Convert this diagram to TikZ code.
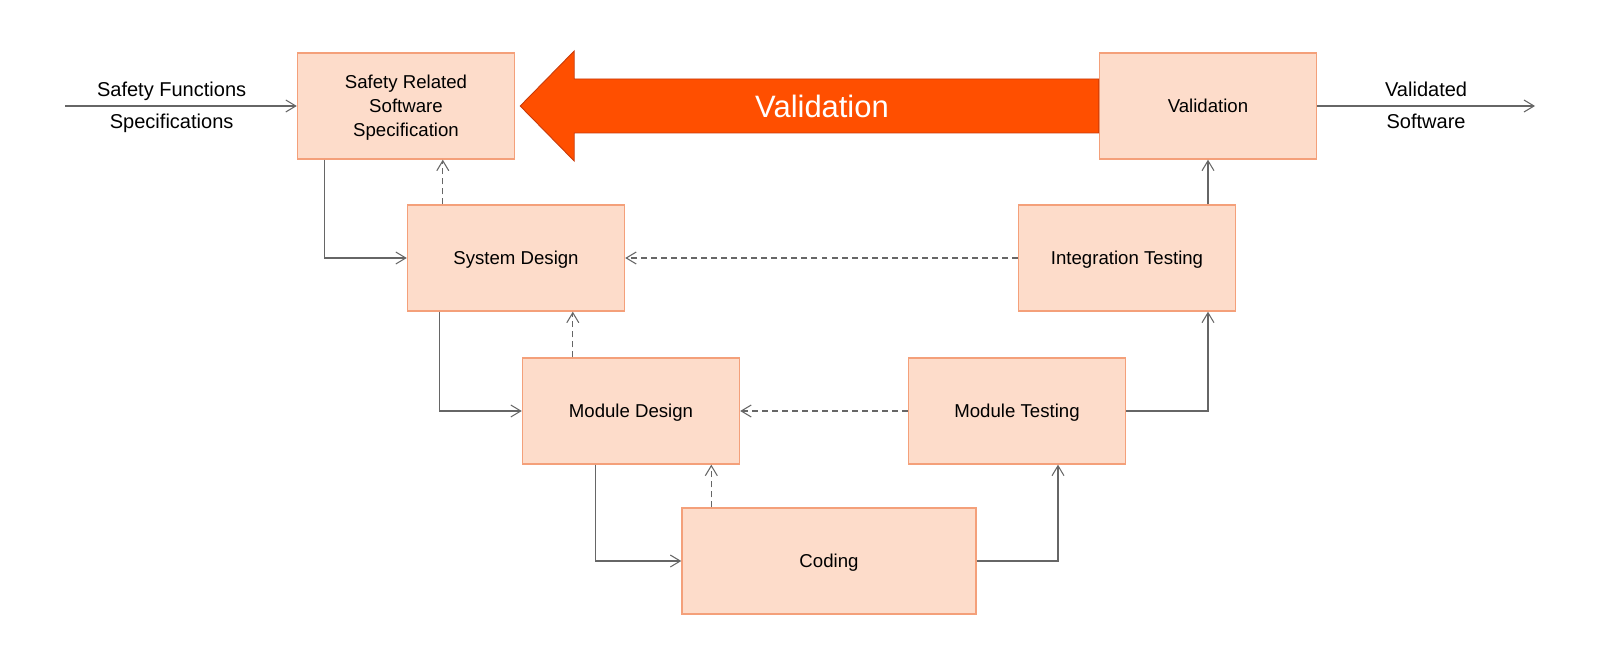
\documentclass[tikz,border=0pt]{standalone}
\usepackage{fontspec}
\setmainfont{Liberation Sans}
\usepackage{tikz}
\usetikzlibrary{positioning,arrows.meta}
\definecolor{boxfill}{HTML}{FDDCCA}
\definecolor{boxline}{HTML}{F4A07A}
\definecolor{valorange}{HTML}{FF4F00}
\definecolor{valedge}{HTML}{C73A0A}
\definecolor{linkgray}{HTML}{666666}

\begin{document}
\begin{tikzpicture}[->, >={Straight Barb[length=2mm,width=2.4mm]}, node distance=3.05cm and 2.2cm, on grid,
    phase/.style={rectangle, draw=boxline, fill=boxfill, line width=0.8pt, minimum width=4.34cm, minimum height=2.12cm, align=center, text depth=0pt, font=\fontsize{10.6}{13.7}\selectfont},
    link/.style={draw=linkgray, line width=0.6pt},
    back/.style={link, dash pattern=on 3.4pt off 2.3pt},
    side/.style={font=\fontsize{11.4}{13}\selectfont, inner sep=3pt, text height=0.75em, text depth=0.22em},
    bigarrow/.style={-, fill=valorange, draw=valedge, line width=0.5pt},
    bigtext/.style={text=white, font=\fontsize{17.6}{20}\selectfont}]

  \useasboundingbox (0,0) rectangle (32,-13.34);

  % Phases
  \node[phase] (Sspec) at (8.12,-2.12) {Safety Related\\Software\\Specification};
  \node[phase] (Sdesign) [below right=3.04cm and 2.2cm of Sspec] {System Design};
  \node[phase] (Mdesign) [below right=3.06cm and 2.3cm of Sdesign] {Module Design};
  \node[phase, minimum width=5.88cm] (Code) [below right=3cm and 3.96cm of Mdesign] {Coding};
  \node[phase] (Mtest) [above right=3cm and 3.76cm of Code] {Module Testing};
  \node[phase] (Itest) [above right=3.06cm and 2.2cm of Mtest] {Integration Testing};
  \node[phase] (Valid) [above right=3.04cm and 1.62cm of Itest] {Validation};

  % Big validation arrow
  \coordinate (tip) at ([xshift=0.1cm]Sspec.east);
  \filldraw[bigarrow] ([yshift=0.54cm]Valid.west) -- ([xshift=1.08cm,yshift=0.54cm]tip)
    -- ([xshift=1.08cm,yshift=1.1cm]tip) -- (tip) -- ([xshift=1.08cm,yshift=-1.1cm]tip)
    -- ([xshift=1.08cm,yshift=-0.54cm]tip) -- ([yshift=-0.54cm]Valid.west) -- cycle;
  \node[bigtext] (vtext) at (16.44,-2.12) {Validation};

  % In and out
  \coordinate (in) at (1.3,-2.12);
  \coordinate (out) at (30.7,-2.12);
  \draw[link] (in) -- node[side, above, pos=0.46] {Safety Functions}
    node[side, below=2pt, pos=0.46] {Specifications} (Sspec);
  \draw[link] (Valid) -- node[side, above] {Validated}
    node[side, below=2pt] {Software} (out);

  % Down the V
  \draw[link] ([xshift=0.56cm]Sspec.south west) |- (Sdesign);
  \draw[link] ([xshift=0.66cm]Sdesign.south west) |- (Mdesign);
  \draw[link] ([xshift=1.48cm]Mdesign.south west) |- (Code);

  % Up the V
  \draw[link] (Code) -| ([xshift=0.82cm]Mtest.south);
  \draw[link] (Mtest) -| ([xshift=1.62cm]Itest.south);
  \draw[link] (Itest.north -| Valid) -- (Valid);

  % Feedback
  \draw[back] ([xshift=0.72cm]Sdesign.north west) -- ([xshift=0.72cm]Sdesign.north west |- Sspec.south);
  \draw[back] ([xshift=1.02cm]Mdesign.north west) -- ([xshift=1.02cm]Mdesign.north west |- Sdesign.south);
  \draw[back] ([xshift=0.6cm]Code.north west) -- ([xshift=0.6cm]Code.north west |- Mdesign.south);
  \draw[back] (Mtest) -- (Mdesign);
  \draw[back] (Itest) -- (Sdesign);

\end{tikzpicture}
\end{document}
